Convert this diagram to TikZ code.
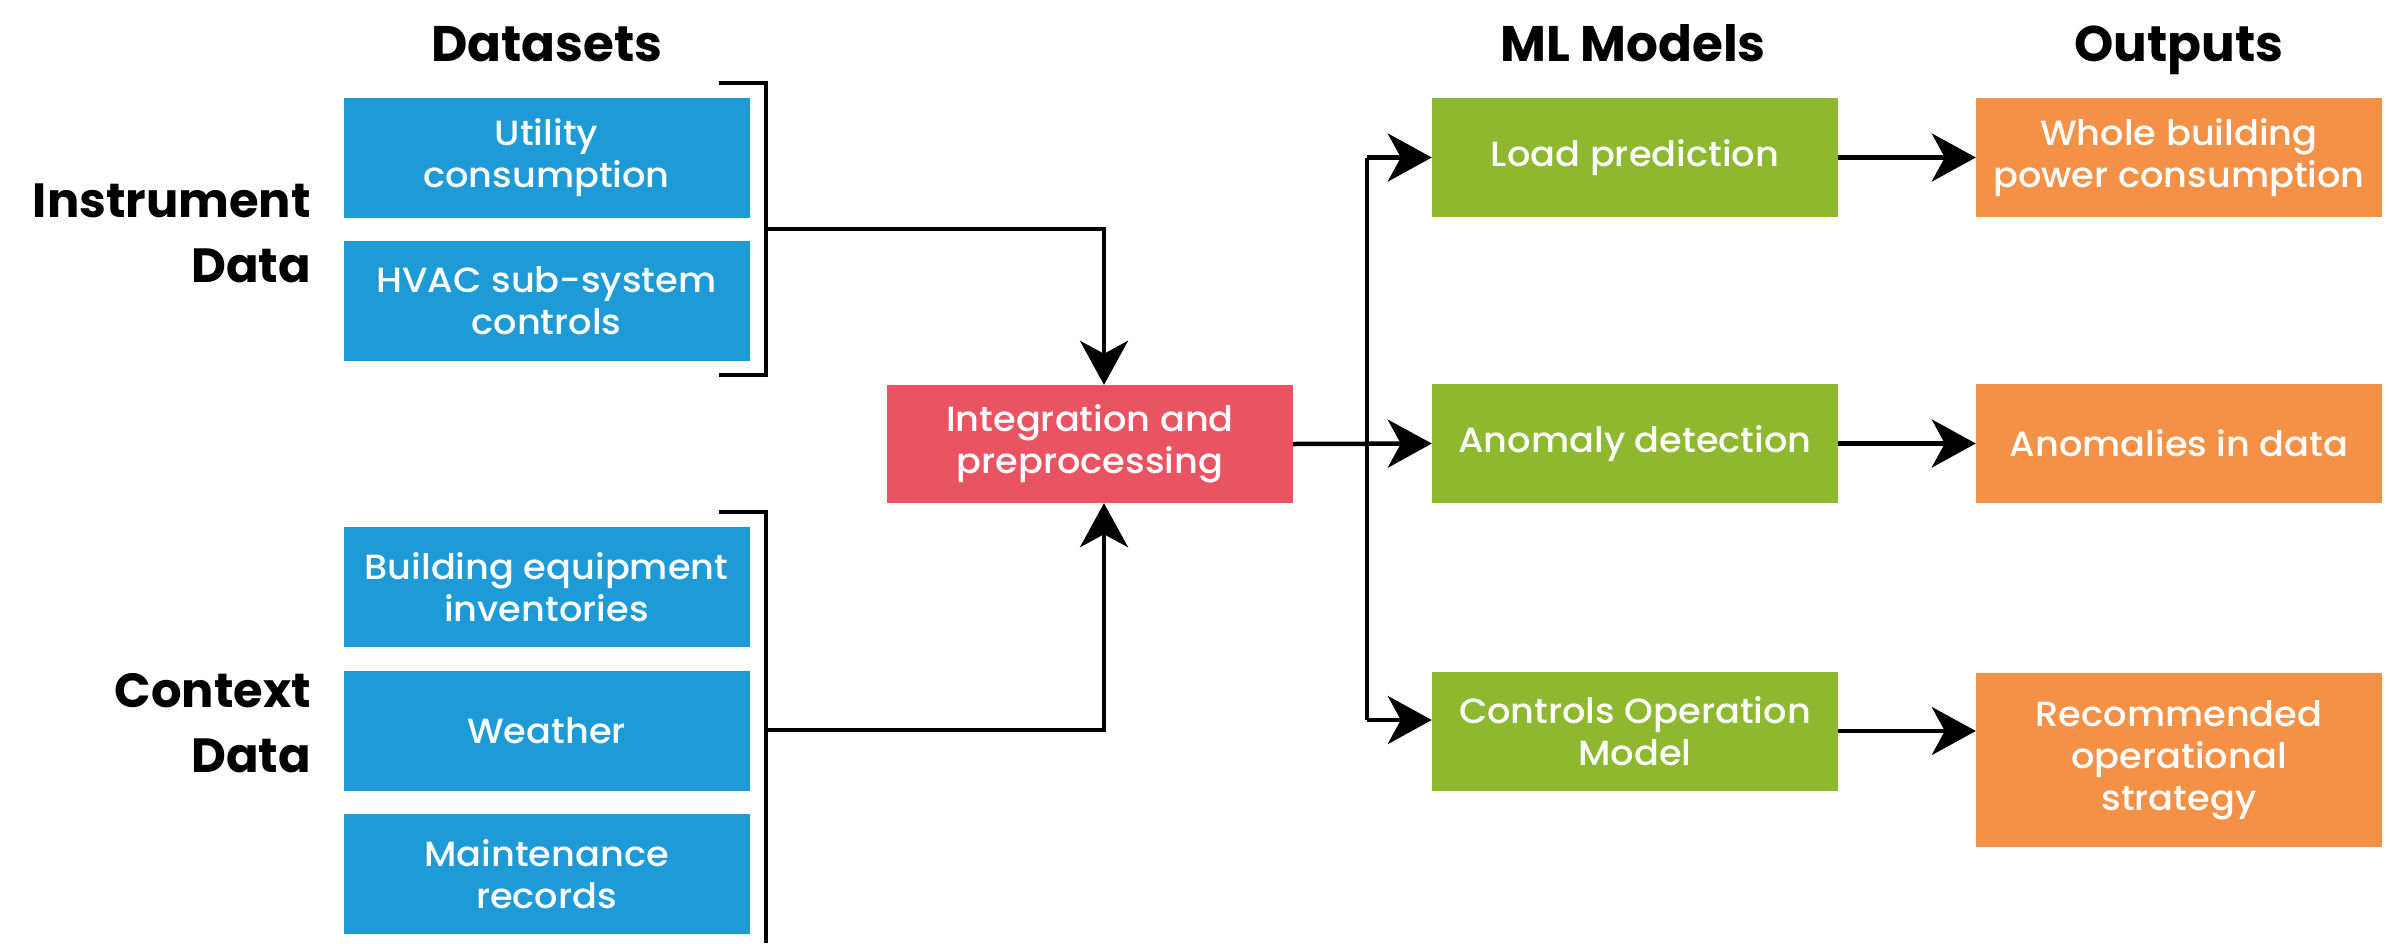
\documentclass[tikz,border=0pt]{standalone}
\usepackage{fontspec}
\setmainfont{Poppins}
\newfontfamily\boxfont{Poppins}[UprightFont=* Medium,FakeStretch=1.05]
\usetikzlibrary{arrows.meta}
\definecolor{cblue}{RGB}{30,155,215}
\definecolor{cpink}{RGB}{234,84,98}
\definecolor{cgreen}{RGB}{141,184,47}
\definecolor{corange}{RGB}{245,145,70}
\begin{document}
\begin{tikzpicture}[x=1pt,y=-1pt,
  box/.style={minimum width=406pt,minimum height=120pt,inner sep=0pt,align=center,
    text=white,font=\boxfont\fontsize{35}{42}\selectfont},
  bluebox/.style={box,fill=cblue},
  pinkbox/.style={box,fill=cpink,minimum height=118pt},
  greenbox/.style={box,fill=cgreen,minimum height=119pt},
  orangebox/.style={box,fill=corange,minimum height=119pt},
  head/.style={font=\bfseries\fontsize{50}{58}\selectfont,anchor=base,inner sep=0pt},
  side/.style={font=\bfseries\fontsize{48}{65}\selectfont,align=right,anchor=base east,inner sep=0pt},
  line/.style={line width=4.5pt,draw=black},
  arr/.style={line,-{Stealth[length=44pt,width=48pt,inset=13pt]}}]
\useasboundingbox (0,0) rectangle (2390,943);
% headings
\node[head] (hdata) at (547,61) {Datasets};
\node[head] (hml) at (1633,61) {ML Models};
\node[head] (hout) at (2179,61) {Outputs};
\node[side] (sinst) at (311,282) {Instrument\\Data};
\node[side] (sctx) at (311,772) {Context\\Data};
% datasets
\node[bluebox] (b1) at (546.5,158) {Utility\\consumption};
\node[bluebox] (b2) at (546.5,301) {HVAC sub-system\\controls};
\node[bluebox] (b3) at (546.5,587) {Building equipment\\inventories};
\node[bluebox] (b4) at (546.5,731) {Weather};
\node[bluebox] (b5) at (546.5,874) {Maintenance\\records};
% brackets
\draw[line] (719,83) -- (766,83) -- (766,375) -- (719,375);
\draw[line] (719,512) -- (766,512) -- (766,943);
\coordinate (ub) at (766,229);
\coordinate (lb) at (766,730);
% integration
\node[pinkbox] (pink) at (1090,444) {Integration and\\preprocessing};
\draw[arr] (ub) -| ([xshift=14pt]pink.north);
\draw[arr] (lb) -| ([xshift=14pt]pink.south);
% models
\node[greenbox] (g1) at (1635,157.5) {Load prediction};
\node[greenbox] (g2) at (1635,443.5) {Anomaly detection};
\node[greenbox] (g3) at (1635,731) {Controls Operation\\Model};
% outputs
\node[orangebox] (o1) at (2179,157.5) {Whole building\\power consumption};
\node[orangebox] (o2) at (2179,443.5) {Anomalies in data};
\node[orangebox,minimum height=174pt] (o3) at (2179,760) {Recommended\\operational\\strategy};
\coordinate (split) at (1367,444);
\draw[arr] (pink.east) -- (g2.west);
\draw[line] (split |- g1.west) -- ([yshift=11pt]split |- g3.west);
\draw[arr] (split |- g1.west) -- (g1.west);
\draw[arr] ([yshift=11pt]split |- g3.west) -- ([yshift=11pt]g3.west);
\draw[arr] (g1.east) -- (o1.west);
\draw[arr] (g2.east) -- (o2.west);
\draw[arr] (g3.east) -- (o3.west |- g3.east);
\end{tikzpicture}
\end{document}
